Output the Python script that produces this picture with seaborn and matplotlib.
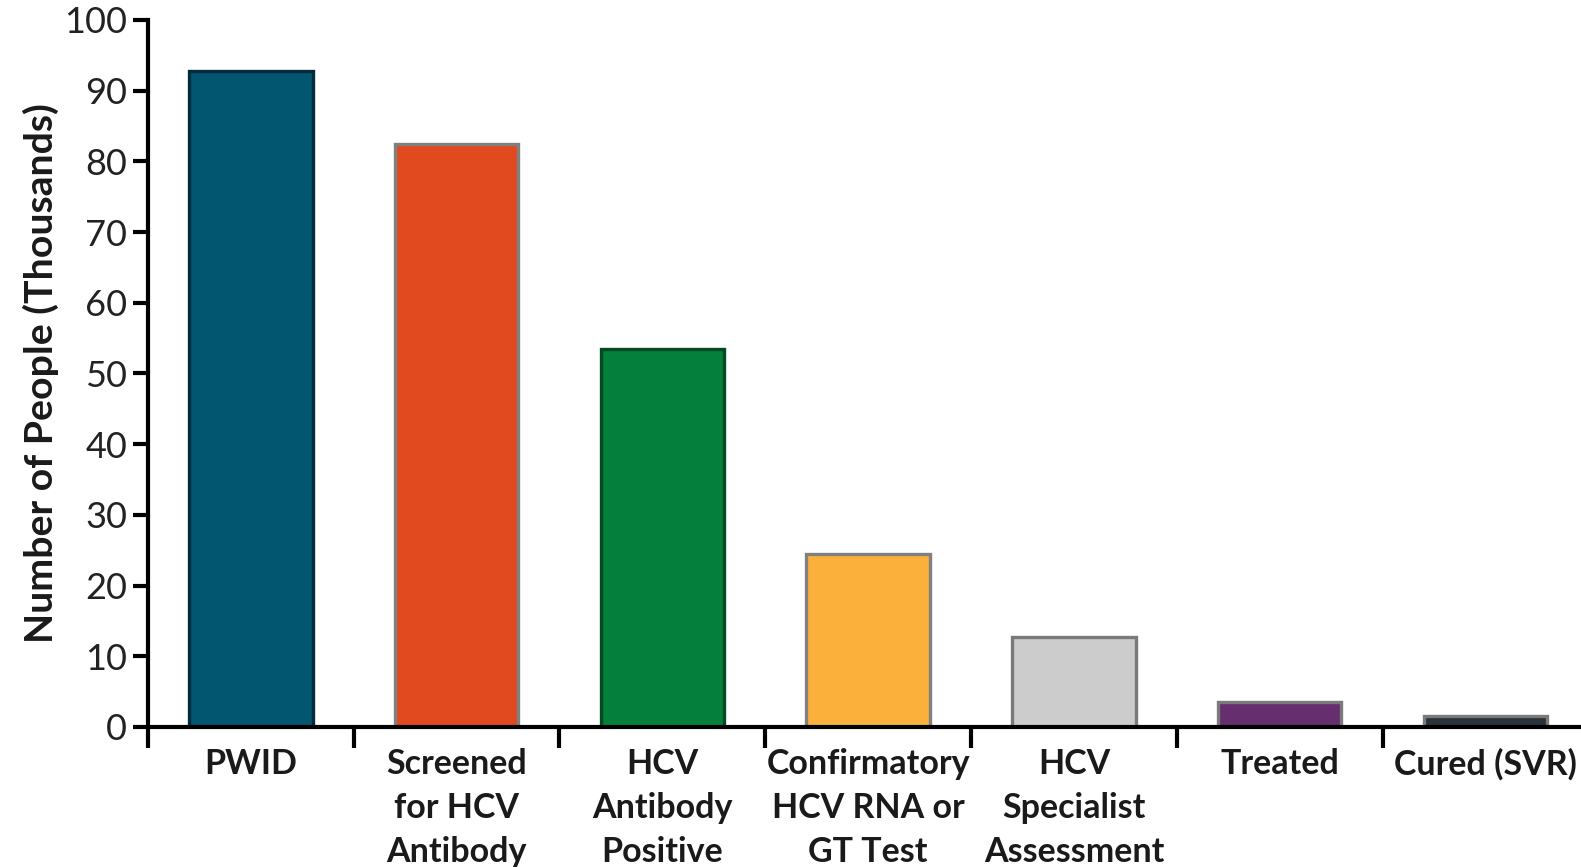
import matplotlib
matplotlib.use("Agg")
import matplotlib.pyplot as plt
import seaborn as sns
import pandas as pd
import numpy as np

# HCV care cascade among people who inject drugs
stages = [
    "PWID",
    "Screened\nfor HCV\nAntibody",
    "HCV\nAntibody\nPositive",
    "Confirmatory\nHCV RNA or\nGT Test",
    "HCV\nSpecialist\nAssessment",
    "Treated",
    "Cured (SVR)",
]
people_thousands = [92.8, 82.5, 53.4, 24.5, 12.7, 3.5, 1.5]
bar_colors = ["#03566f", "#e1491f", "#04803c", "#fbb03b", "#cccccc", "#662d6f", "#2a3339"]
edge_colors = ["#012b3a", "#808080", "#024a22", "#808080", "#7a7a7a", "#7a7a7a", "#7a7a7a"]
y_ticks = list(range(0, 101, 10))

df = pd.DataFrame({"stage": stages, "people": people_thousands})

sns.set_theme(style="white")
plt.rcParams["font.family"] = ["Lato", "DejaVu Sans"]

fig = plt.figure(figsize=(15.81, 8.67), dpi=100)
ax = fig.add_axes([0.0936, 0.1615, 0.911, 0.8155])

sns.barplot(
    data=df, x="stage", y="people", hue="stage",
    palette=bar_colors, legend=False, width=0.6, ax=ax,
    saturation=1, linewidth=2.4,
)
for patch, ec in zip(ax.patches, edge_colors):
    patch.set_edgecolor(ec)
    patch.set_linewidth(2.4)

ax.set_xlim(-0.5, 6.5)
ax.set_ylim(0, 100)
ax.set_yticks(y_ticks)
ax.set_yticklabels([str(t) for t in y_ticks], fontsize=26, color="#222222")

# Category boundaries carry the tick marks; labels sit centred between them
ax.set_xticks(np.arange(-0.5, 6.6, 1.0))
ax.set_xticklabels([])
ax.set_xticks(np.arange(len(stages)), minor=True)
ax.set_xticklabels(stages, minor=True, fontsize=24.5, fontweight="bold",
                   color="#1a1a1a", linespacing=1.47, va="top")
ax.tick_params(axis="x", which="major", direction="out", length=15, width=3,
               color="black", bottom=True)
ax.tick_params(axis="x", which="minor", length=0, pad=15, bottom=True)
ax.tick_params(axis="y", direction="out", length=11, width=3, color="black",
               pad=4, left=True)

ax.set_xlabel("")
ax.set_ylabel("Number of People (Thousands)", fontsize=28.3, fontweight="bold",
              color="#1a1a1a", labelpad=4)

for side in ["top", "right"]:
    ax.spines[side].set_visible(False)
for side in ["left", "bottom"]:
    ax.spines[side].set_color("black")
    ax.spines[side].set_linewidth(3)

ax.grid(False)
fig.savefig("out.png", dpi=100, facecolor="white")
